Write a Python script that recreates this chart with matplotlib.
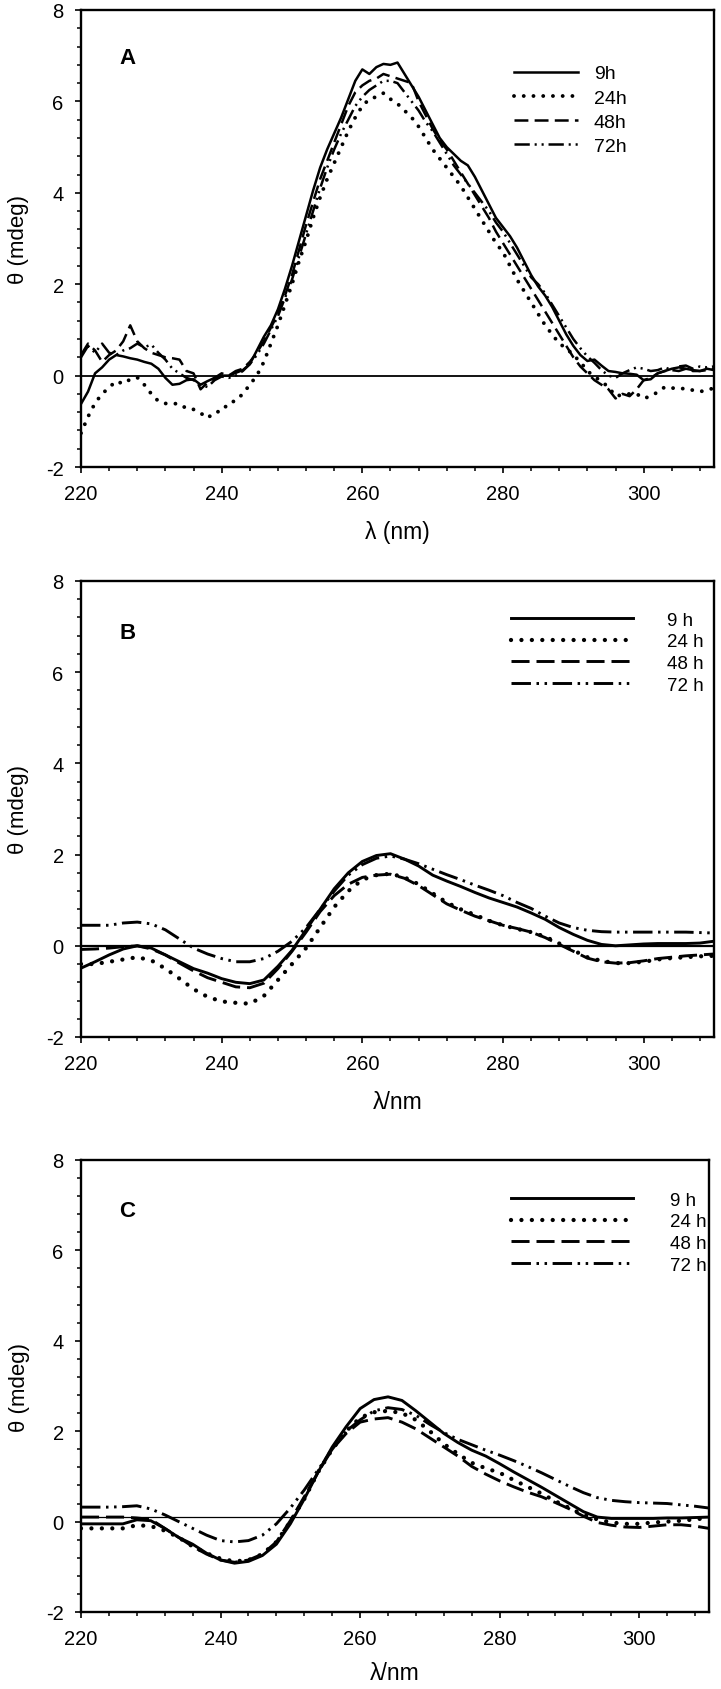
import matplotlib
matplotlib.use("Agg")
import matplotlib.pyplot as plt
from matplotlib.ticker import MultipleLocator
import numpy as np

plt.rcParams['font.family'] = ['Liberation Sans', 'DejaVu Sans']
plt.rcParams['axes.unicode_minus'] = False
plt.rcParams['lines.scale_dashes'] = False

# ---------------- data ----------------
wl_a = list(range(220, 311))          # 1 nm steps, panel A
wl_bc = list(range(220, 311, 2))      # 2 nm steps, panels B and C

labels_a = ["9h", "24h", "48h", "72h"]
labels_bc = ["9 h", "24 h", "48 h", "72 h"]
panel_letters = ["A", "B", "C"]

a_9h = [-0.62, -0.35, 0.05, 0.18, 0.35, 0.45, 0.42, 0.38, 0.35, 0.30,
        0.26, 0.15, -0.05, -0.20, -0.18, -0.10, -0.08, -0.20, -0.12, -0.05,
        0.00, 0.00, 0.06, 0.12, 0.25, 0.55, 0.85, 1.10, 1.45, 1.90,
        2.40, 2.95, 3.50, 4.05, 4.55, 4.95, 5.30, 5.65, 6.05, 6.45,
        6.70, 6.60, 6.75, 6.82, 6.80, 6.85, 6.60, 6.35, 6.10, 5.80,
        5.50, 5.20, 5.00, 4.85, 4.70, 4.60, 4.35, 4.05, 3.75, 3.45,
        3.25, 3.05, 2.80, 2.50, 2.20, 1.95, 1.75, 1.50, 1.20, 0.90,
        0.65, 0.45, 0.32, 0.35, 0.22, 0.10, 0.08, 0.05, 0.04, 0.02,
        -0.10, -0.08, 0.05, 0.10, 0.15, 0.18, 0.15, 0.12, 0.10, 0.15,
        0.12]
a_24h = [-1.26, -0.90, -0.60, -0.40, -0.26, -0.12, -0.18, -0.08, -0.04, -0.20,
         -0.40, -0.56, -0.61, -0.61, -0.62, -0.72, -0.74, -0.82, -0.93, -0.80,
         -0.78, -0.60, -0.55, -0.40, -0.20, 0.00, 0.30, 0.70, 1.10, 1.55,
         2.00, 2.50, 2.95, 3.45, 3.90, 4.30, 4.65, 5.00, 5.35, 5.65,
         5.90, 6.05, 6.10, 6.18, 6.05, 5.95, 5.80, 5.65, 5.45, 5.20,
         4.95, 4.75, 4.55, 4.35, 4.15, 3.90, 3.65, 3.40, 3.15, 2.90,
         2.70, 2.40, 2.10, 1.85, 1.60, 1.35, 1.10, 0.90, 0.70, 0.60,
         0.45, 0.30, 0.10, -0.02, -0.13, -0.25, -0.45, -0.42, -0.40, -0.40,
         -0.50, -0.45, -0.36, -0.25, -0.27, -0.29, -0.28, -0.32, -0.35, -0.32,
         -0.27]
a_48h = [0.45, 0.70, 0.55, 0.30, 0.45, 0.55, 0.75, 1.10, 0.75, 0.60,
         0.50, 0.45, 0.40, 0.38, 0.35, 0.10, 0.05, -0.30, -0.15, -0.05,
         0.05, 0.00, 0.10, 0.15, 0.30, 0.50, 0.75, 1.05, 1.35, 1.75,
         2.20, 2.75, 3.30, 3.80, 4.30, 4.70, 5.10, 5.50, 5.90, 6.20,
         6.35, 6.45, 6.50, 6.60, 6.55, 6.50, 6.45, 6.40, 6.00, 5.70,
         5.40, 5.15, 4.95, 4.70, 4.45, 4.20, 3.95, 3.70, 3.45, 3.15,
         2.90, 2.65, 2.40, 2.15, 1.90, 1.65, 1.40, 1.15, 0.90, 0.65,
         0.40, 0.20, 0.05, -0.10, -0.20, -0.30, -0.50, -0.40, -0.45, -0.30,
         -0.10, -0.05, 0.05, 0.10, 0.12, 0.10, 0.15, 0.10, 0.10, 0.12,
         0.15]
a_72h = [0.40, 0.65, 0.50, 0.70, 0.50, 0.45, 0.55, 0.60, 0.70, 0.62,
         0.68, 0.50, 0.35, 0.15, 0.05, -0.05, -0.10, -0.20, -0.25, -0.10,
         -0.02, -0.05, 0.00, 0.10, 0.25, 0.45, 0.70, 1.00, 1.30, 1.70,
         2.10, 2.60, 3.10, 3.60, 4.10, 4.55, 4.95, 5.30, 5.60, 5.90,
         6.10, 6.25, 6.35, 6.45, 6.45, 6.40, 6.20, 6.00, 5.80, 5.55,
         5.35, 5.10, 4.85, 4.60, 4.40, 4.20, 4.00, 3.80, 3.60, 3.35,
         3.15, 2.90, 2.65, 2.40, 2.15, 2.00, 1.80, 1.55, 1.30, 1.05,
         0.80, 0.60, 0.42, 0.28, 0.12, 0.00, -0.05, 0.05, 0.12, 0.18,
         0.15, 0.10, 0.12, 0.18, 0.12, 0.20, 0.22, 0.15, 0.20, 0.18,
         0.20]

b_9h = [-0.49, -0.35, -0.20, -0.07, 0.00, -0.05, -0.20, -0.35, -0.50, -0.60,
        -0.72, -0.80, -0.83, -0.75, -0.45, -0.10, 0.35, 0.80, 1.25, 1.60,
        1.85, 1.98, 2.02, 1.90, 1.75, 1.55, 1.42, 1.30, 1.17, 1.05,
        0.95, 0.85, 0.72, 0.58, 0.40, 0.25, 0.12, 0.03, 0.00, 0.02,
        0.04, 0.05, 0.05, 0.05, 0.06, 0.10]
b_24h = [-0.40, -0.40, -0.35, -0.30, -0.25, -0.32, -0.50, -0.72, -0.95, -1.12,
         -1.22, -1.25, -1.27, -1.10, -0.75, -0.40, -0.05, 0.40, 0.85, 1.20,
         1.45, 1.55, 1.58, 1.50, 1.35, 1.15, 0.95, 0.80, 0.68, 0.55,
         0.45, 0.37, 0.30, 0.20, 0.05, -0.10, -0.25, -0.33, -0.38, -0.38,
         -0.35, -0.30, -0.27, -0.25, -0.23, -0.22]
b_48h = [-0.08, -0.07, -0.05, -0.02, 0.00, -0.07, -0.20, -0.38, -0.55, -0.70,
         -0.80, -0.90, -0.92, -0.82, -0.50, -0.12, 0.30, 0.75, 1.10, 1.35,
         1.50, 1.55, 1.57, 1.48, 1.32, 1.12, 0.92, 0.78, 0.65, 0.55,
         0.45, 0.38, 0.30, 0.18, 0.03, -0.12, -0.27, -0.35, -0.38, -0.37,
         -0.33, -0.28, -0.25, -0.22, -0.20, -0.18]
b_72h = [0.45, 0.45, 0.45, 0.50, 0.52, 0.48, 0.35, 0.15, -0.05, -0.18,
         -0.28, -0.35, -0.35, -0.28, -0.12, 0.10, 0.40, 0.80, 1.20, 1.55,
         1.78, 1.92, 1.97, 1.90, 1.80, 1.68, 1.56, 1.45, 1.33, 1.22,
         1.10, 0.95, 0.82, 0.65, 0.50, 0.40, 0.34, 0.31, 0.30, 0.30,
         0.30, 0.30, 0.30, 0.30, 0.29, 0.28]

c_9h = [-0.05, -0.05, -0.05, -0.05, 0.04, 0.02, -0.15, -0.35, -0.50, -0.70,
        -0.85, -0.92, -0.88, -0.75, -0.50, -0.05, 0.50, 1.10, 1.65, 2.10,
        2.50, 2.70, 2.76, 2.68, 2.45, 2.20, 1.95, 1.75, 1.58, 1.45,
        1.28, 1.10, 0.93, 0.76, 0.58, 0.40, 0.22, 0.10, 0.07, 0.07,
        0.07, 0.07, 0.08, 0.08, 0.09, 0.10]
c_24h = [-0.15, -0.15, -0.15, -0.15, -0.08, -0.10, -0.20, -0.35, -0.55, -0.70,
         -0.82, -0.88, -0.85, -0.72, -0.45, 0.00, 0.50, 1.10, 1.60, 2.00,
         2.30, 2.42, 2.45, 2.40, 2.25, 2.00, 1.72, 1.50, 1.30, 1.18,
         1.08, 0.92, 0.77, 0.62, 0.45, 0.30, 0.15, 0.05, -0.02, -0.05,
         -0.05, -0.02, 0.00, 0.02, 0.05, 0.08]
c_48h = [0.10, 0.10, 0.10, 0.10, 0.08, 0.05, -0.15, -0.35, -0.55, -0.72,
         -0.85, -0.90, -0.85, -0.72, -0.45, 0.02, 0.55, 1.10, 1.60, 1.95,
         2.20, 2.27, 2.30, 2.20, 2.05, 1.85, 1.65, 1.45, 1.22, 1.05,
         0.90, 0.77, 0.65, 0.55, 0.42, 0.28, 0.12, -0.02, -0.08, -0.12,
         -0.13, -0.10, -0.07, -0.07, -0.10, -0.15]
c_72h = [0.32, 0.32, 0.32, 0.33, 0.35, 0.28, 0.15, 0.00, -0.15, -0.30,
         -0.42, -0.45, -0.42, -0.30, -0.05, 0.30, 0.70, 1.15, 1.60, 2.00,
         2.25, 2.45, 2.52, 2.48, 2.35, 2.15, 1.97, 1.82, 1.70, 1.58,
         1.47, 1.35, 1.22, 1.08, 0.93, 0.78, 0.64, 0.53, 0.47, 0.44,
         0.42, 0.41, 0.40, 0.37, 0.34, 0.30]

ref_levels = [0.0, 0.0, 0.1]
xlabels = ["λ (nm)", "λ/nm", "λ/nm"]

# ---------------- layout / style ----------------
W, H = 721, 1690
fig = plt.figure(figsize=(W / 100, H / 100), dpi=100)

def frac(l, r, t, b):
    return [l / W, 1 - b / H, (r - l) / W, (b - t) / H]

rects = [frac(81, 714, 11, 468), frac(81, 714, 582, 1038), frac(81, 709, 1161, 1613)]

style_a = [
    dict(ls='-', lw=1.8),
    dict(ls=(0, (0.01, 7.0)), lw=2.8, dash_capstyle='round'),
    dict(ls=(0, (10, 4.5)), lw=1.8),
    dict(ls=(0, (11, 3.5, 1.5, 3.5, 1.5, 3.5)), lw=1.8),
]
style_bc = [
    dict(ls='-', lw=2.1),
    dict(ls=(0, (0.01, 7.5)), lw=3.1, dash_capstyle='round'),
    dict(ls=(0, (13, 5)), lw=2.1),
    dict(ls=(0, (14, 4, 1.8, 4, 1.8, 4)), lw=2.1),
]

panels = [
    (wl_a, [a_9h, a_24h, a_48h, a_72h], labels_a, style_a),
    (wl_bc, [b_9h, b_24h, b_48h, b_72h], labels_bc, style_bc),
    (wl_bc, [c_9h, c_24h, c_48h, c_72h], labels_bc, style_bc),
]

legend_cfg = [
    dict(fontsize=14, handlelength=3.3, handletextpad=0.8, labelspacing=0.34,
         anchor=(0.684, 0.880)),
    dict(fontsize=13.5, handlelength=6.5, handletextpad=1.85, labelspacing=0.24,
         anchor=(0.679, 0.933)),
    dict(fontsize=13.5, handlelength=6.5, handletextpad=1.95, labelspacing=0.24,
         anchor=(0.685, 0.930)),
]
letter_y = [0.897, 0.888, 0.889]
zero_lw = [1.3, 1.6, 0.9]
xlabel_y = [-0.116, -0.116, -0.109]

for i, (rect, (xs, series, labs, styles)) in enumerate(zip(rects, panels)):
    ax = fig.add_axes(rect)
    ax.axhline(ref_levels[i], color='black', lw=zero_lw[i], zorder=1)
    for ys, lab, st in zip(series, labs, styles):
        st = dict(st)
        ls = st.pop('ls')
        ax.plot(xs, ys, color='black', linestyle=ls, label=lab,
                solid_joinstyle='round', **st)
    ax.set_xlim(220, 310)
    ax.set_ylim(-2, 8)
    ax.xaxis.set_major_locator(MultipleLocator(20))
    ax.xaxis.set_minor_locator(MultipleLocator(4))
    ax.yaxis.set_major_locator(MultipleLocator(2))
    ax.yaxis.set_minor_locator(MultipleLocator(0.4))
    ax.tick_params(which='major', direction='out', length=4.5, width=1.2,
                   labelsize=14.5, pad=8, color='black')
    ax.tick_params(which='minor', direction='out', length=3.2, width=1.1)
    for sp in ax.spines.values():
        sp.set_linewidth(1.7)
    ax.set_ylabel("θ (mdeg)", fontsize=16)
    ax.yaxis.set_label_coords(-0.082, 0.5)
    ax.set_xlabel(xlabels[i], fontsize=16.5)
    ax.xaxis.set_label_coords(0.5, xlabel_y[i])
    ax.text(0.074, letter_y[i], panel_letters[i], transform=ax.transAxes,
            fontsize=16, fontweight='bold', ha='center', va='center')
    cfg = legend_cfg[i]
    ax.legend(loc='upper left', bbox_to_anchor=cfg['anchor'], frameon=False,
              fontsize=cfg['fontsize'], handlelength=cfg['handlelength'],
              handletextpad=cfg['handletextpad'], labelspacing=cfg['labelspacing'],
              borderpad=0, borderaxespad=0)

fig.savefig("out.png", dpi=100)
